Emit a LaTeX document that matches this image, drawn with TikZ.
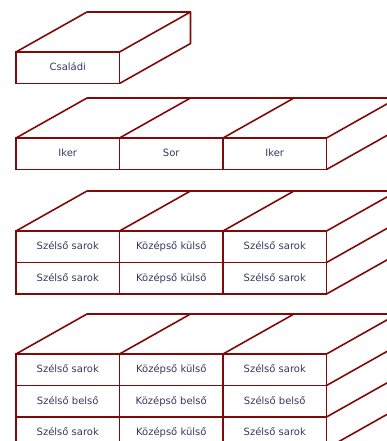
\documentclass[tikz,border=0pt]{standalone}
\usepackage{fontspec}
\setmainfont{DejaVu Sans}
\usetikzlibrary{positioning}
\definecolor{maroon}{RGB}{128,10,10}
\definecolor{ink}{RGB}{55,55,95}

\begin{document}
\begin{tikzpicture}[x=1pt, y=-1pt,
    cell/.style={draw=maroon, line width=1.6pt, minimum width=103.5pt, minimum height=31.5pt, inner sep=0pt, outer sep=0pt, text height=7.5pt, text depth=2pt, font=\fontsize{10}{12}\selectfont, text=ink},
    face/.style={draw=maroon, line width=1.6pt, line join=round}
]
\clip (0,0) rectangle (387,441);

% egy elem
\node[cell, anchor=north west] (csal) at (16,52) {Családi};
\draw[face] (csal.north west) -- ++(71,-40) -- ++(103.5,0) -- (csal.north east);
\draw[face] (csal.south east) -- ++(71,-40) -- ++(0,-31.5);

% egy sor
\node[cell, anchor=north west] (iker1) at (16,138) {Iker};
\node[cell, right=0pt of iker1] (sor) {Sor};
\node[cell, right=0pt of sor] (iker2) {Iker};
\draw[face] (iker1.north west) -- ++(71,-40) -- ++(400,0);
\foreach \n in {iker1,sor,iker2}
    \draw[face] (\n.north east) -- ++(71,-40);
\draw[face] (iker2.south east) -- ++(71,-40);

% ket sor
\node[cell, anchor=north west] (a11) at (16,231) {Szélső sarok};
\node[cell, right=0pt of a11] (a12) {Középső külső};
\node[cell, right=0pt of a12] (a13) {Szélső sarok};
\node[cell, below=0pt of a11] (a21) {Szélső sarok};
\node[cell, below=0pt of a12] (a22) {Középső külső};
\node[cell, below=0pt of a13] (a23) {Szélső sarok};
\draw[face] (a11.north west) -- ++(71,-40) -- ++(400,0);
\foreach \n in {a11,a12,a13}
    \draw[face] (\n.north east) -- ++(71,-40);
\foreach \n in {a13,a23}
    \draw[face] (\n.south east) -- ++(71,-40);

% harom sor
\node[cell, anchor=north west] (b11) at (16,354) {Szélső sarok};
\node[cell, right=0pt of b11] (b12) {Középső külső};
\node[cell, right=0pt of b12] (b13) {Szélső sarok};
\node[cell, below=0pt of b11] (b21) {Szélső belső};
\node[cell, below=0pt of b12] (b22) {Középső belső};
\node[cell, below=0pt of b13] (b23) {Szélső belső};
\node[cell, below=0pt of b21] (b31) {Szélső sarok};
\node[cell, below=0pt of b22] (b32) {Középső külső};
\node[cell, below=0pt of b23] (b33) {Szélső sarok};
\draw[face] (b11.north west) -- ++(71,-40) -- ++(400,0);
\foreach \n in {b11,b12,b13}
    \draw[face] (\n.north east) -- ++(71,-40);
\foreach \n in {b13,b23,b33}
    \draw[face] (\n.south east) -- ++(71,-40);
\end{tikzpicture}
\end{document}
